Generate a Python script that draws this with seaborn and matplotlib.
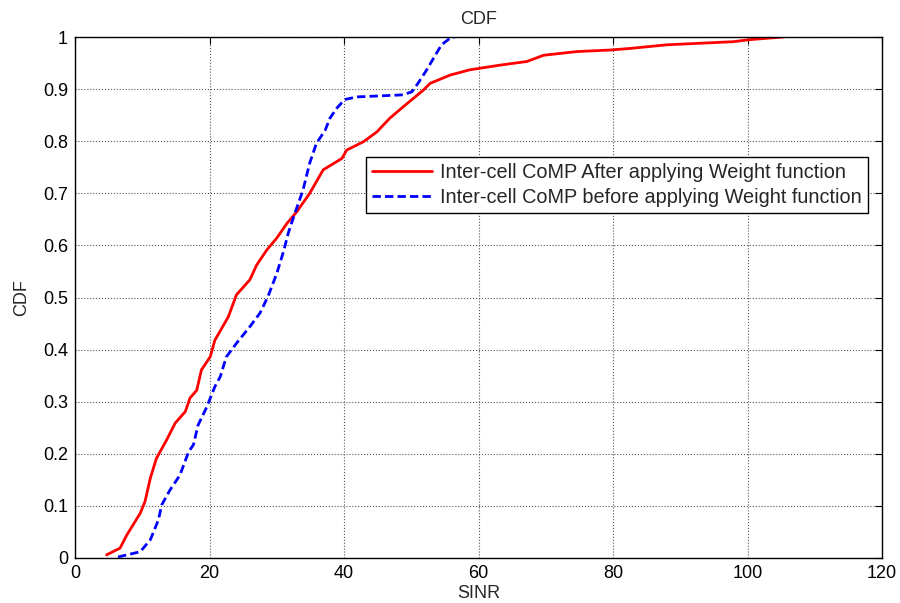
import matplotlib
matplotlib.use("Agg")
import matplotlib.pyplot as plt
import seaborn as sns
import pandas as pd

# Data
red_x = [4.7, 6.7, 7.7, 9.7, 10.4, 11.2, 12.1, 13.6, 14.9, 16.4, 17.1, 18.1, 18.8, 20.1, 20.8, 22.8,
         24.0, 26.0, 27.0, 28.5, 30.0, 31.5, 33.0, 34.9, 36.9, 39.7, 40.4, 42.9, 44.9, 46.8, 48.8,
         50.3, 51.8, 52.8, 55.8, 58.7, 61.7, 63.2, 67.2, 69.7, 74.6, 79.6, 82.5, 88.0, 92.9, 97.9,
         100.4, 105.3]
red_y = [0.006, 0.019, 0.044, 0.086, 0.108, 0.153, 0.191, 0.226, 0.259, 0.281, 0.307, 0.322, 0.361,
         0.386, 0.418, 0.463, 0.505, 0.534, 0.562, 0.591, 0.614, 0.642, 0.665, 0.700, 0.745, 0.767,
         0.783, 0.799, 0.818, 0.844, 0.866, 0.882, 0.898, 0.911, 0.927, 0.937, 0.943, 0.946, 0.953,
         0.965, 0.972, 0.975, 0.978, 0.985, 0.988, 0.991, 0.995, 1.0]

blue_x = [6.4, 9.7, 11.2, 12.4, 12.9, 14.1, 15.6, 16.9, 17.6, 18.3, 19.6, 20.8, 21.6, 22.5, 24.0,
          26.0, 27.5, 28.7, 30.0, 31.0, 31.7, 32.7, 33.9, 34.9, 35.9, 37.2, 37.9, 38.9, 40.1, 41.9,
          48.8, 50.1, 51.0, 52.3, 53.3, 54.5, 55.8, 56.5]
blue_y = [0.002, 0.012, 0.035, 0.073, 0.102, 0.130, 0.159, 0.204, 0.217, 0.255, 0.290, 0.329, 0.348,
          0.386, 0.412, 0.444, 0.470, 0.502, 0.546, 0.588, 0.623, 0.662, 0.706, 0.758, 0.796, 0.821,
          0.844, 0.863, 0.880, 0.885, 0.889, 0.895, 0.911, 0.937, 0.959, 0.985, 0.998, 1.0]

label_red = "Inter-cell CoMP After applying Weight function"
label_blue = "Inter-cell CoMP before applying Weight function"

x_ticks = [0, 20, 40, 60, 80, 100, 120]
y_ticks = [0, 0.1, 0.2, 0.3, 0.4, 0.5, 0.6, 0.7, 0.8, 0.9, 1]
y_tick_labels = ["0", "0.1", "0.2", "0.3", "0.4", "0.5", "0.6", "0.7", "0.8", "0.9", "1"]

df = pd.concat([
    pd.DataFrame({"SINR": red_x, "CDF": red_y, "series": label_red}),
    pd.DataFrame({"SINR": blue_x, "CDF": blue_y, "series": label_blue}),
], ignore_index=True)

sns.set_style("white")
plt.rcParams["font.family"] = ["Liberation Sans", "DejaVu Sans"]

fig = plt.figure(figsize=(9, 6.03), dpi=100)
ax = fig.add_axes([75 / 900, 45 / 603, 807 / 900, 521 / 603])

sns.lineplot(data=df, x="SINR", y="CDF", hue="series", style="series",
             palette={label_red: "#ff0000", label_blue: "#0000ff"},
             dashes={label_red: "", label_blue: (3, 1.5)},
             sort=False, estimator=None, linewidth=2.0, ax=ax)

ax.set_xlim(0, 120)
ax.set_ylim(0, 1)
ax.set_xticks(x_ticks)
ax.set_yticks(y_ticks)
ax.set_yticklabels(y_tick_labels)
ax.tick_params(direction="in", length=5, width=0.8, top=True, right=True,
               labelsize=13, colors="black", pad=5)
ax.grid(True, linestyle=":", color="#555555", linewidth=0.8)
for s in ax.spines.values():
    s.set_color("black")
    s.set_linewidth(1.0)

ax.set_title("CDF", fontsize=13, pad=9)
ax.set_xlabel("SINR", fontsize=13, labelpad=2)
ax.set_ylabel("CDF", fontsize=13, labelpad=9)

leg = ax.legend(loc="upper left", bbox_to_anchor=(0.361, 0.770), borderaxespad=0,
                fancybox=False, framealpha=1, edgecolor="black", fontsize=14.3,
                handlelength=3.0, borderpad=0.3, labelspacing=0.3, handletextpad=0.4)
leg.get_frame().set_linewidth(1.0)
leg.set_title(None)

fig.savefig("out.png", dpi=100)
